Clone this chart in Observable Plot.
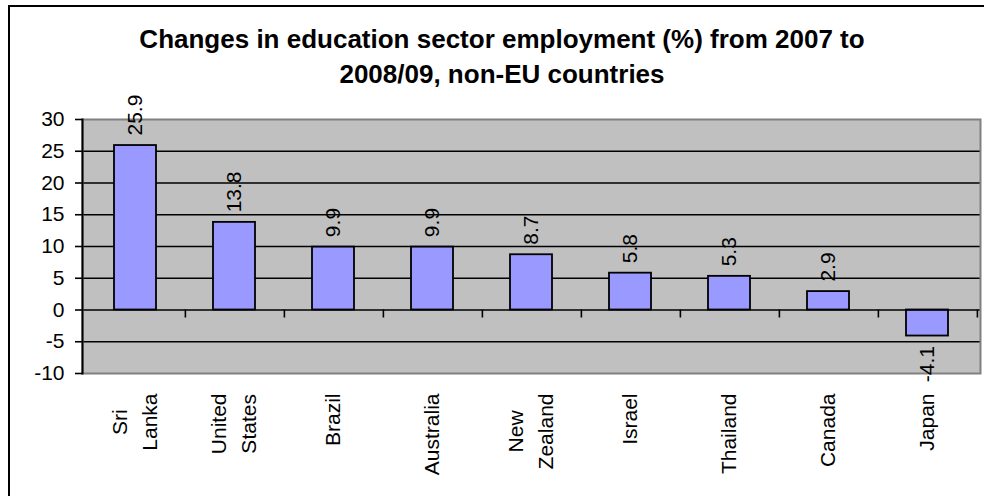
<!DOCTYPE html>
<html><head><meta charset="utf-8">
<script src="https://cdn.jsdelivr.net/npm/d3@7"></script>
<script src="https://cdn.jsdelivr.net/npm/@observablehq/plot@0.6"></script>
<style>
html,body{margin:0;padding:0;background:#fff;overflow:hidden;width:984px;height:496px;}
#frame{position:absolute;left:8px;top:5px;width:1200px;height:900px;border:2px solid #000;}
#title{position:absolute;left:0;top:21.5px;width:1004px;text-align:center;font:bold 26px "Liberation Sans",Arial,sans-serif;line-height:35px;color:#000;}
#chart{position:absolute;left:0;top:90px;}
</style></head><body>
<div id="frame"></div>
<div id="title">Changes in education sector employment (%) from 2007 to<br>2008/09, non-EU countries</div>
<div id="chart"></div>
<script>
const countries = ["Sri\nLanka", "United\nStates", "Brazil", "Australia", "New\nZealand", "Israel", "Thailand", "Canada", "Japan"];
const values = [25.9, 13.8, 9.9, 9.9, 8.7, 5.8, 5.3, 2.9, -4.1];
const yTicks = [-10, -5, 0, 5, 10, 15, 20, 25, 30];
const gridLines = [-5, 5, 10, 15, 20, 25];

const data = countries.map((c, i) => ({country: c, value: values[i]}));

const W = 984, H = 406, mL = 82, mR = 4, mT = 29, mB = 123;
const step = (W - mL - mR) / countries.length;
const FONT = "21px 'Liberation Sans', Arial, sans-serif";

const ctx = document.createElement("canvas").getContext("2d");
ctx.font = FONT;

const labelMarks = [];
countries.forEach(c => {
  const lines = c.split("\n");
  const widths = lines.map(l => ctx.measureText(l).width);
  const maxW = Math.max(...widths);
  lines.forEach((l, i) => {
    labelMarks.push(Plot.text([c], {
      x: d => d, text: () => l, frameAnchor: "bottom", rotate: -90,
      textAnchor: "end", lineAnchor: "middle",
      dy: 20 + (maxW - widths[i]) / 2,
      dx: (i - (lines.length - 1) / 2) * 30
    }));
  });
});

const chart = Plot.plot({
  width: W, height: H,
  marginLeft: mL, marginRight: mR, marginTop: mT, marginBottom: mB,
  style: {background: "transparent", fontFamily: "'Liberation Sans', Arial, sans-serif", fontSize: "21px", color: "#000", overflow: "visible"},
  x: {domain: countries, paddingInner: 0.58, paddingOuter: 0.29, axis: null},
  y: {domain: [-10, 30]},
  marks: [
    Plot.frame({fill: "#c0c0c0"}),
    Plot.ruleY(gridLines, {stroke: "#000", strokeWidth: 1.6}),
    Plot.barY(data, {x: "country", y: "value", fill: "#9999ff", stroke: "#000", strokeWidth: 1.8}),
    Plot.ruleY([0], {stroke: "#000", strokeWidth: 1.6}),
    Plot.ruleX(countries, {x: d => d, y1: 0, y2: 0, insetBottom: -8, dx: step / 2, stroke: "#000", strokeWidth: 1.6}),
    Plot.frame({stroke: "#808080", strokeWidth: 2}),
    Plot.frame({anchor: "left", stroke: "#000", strokeWidth: 2}),
    Plot.axisY({ticks: yTicks, tickSize: 7, tickPadding: 11, tickFormat: d => String(d), label: null, stroke: "#000", strokeWidth: 1.6}),
    Plot.text(data.filter(d => d.value >= 0), {x: "country", y: "value", text: d => d.value.toFixed(1), rotate: -90, textAnchor: "start", lineAnchor: "middle", dy: -10}),
    Plot.text(data.filter(d => d.value < 0), {x: "country", y: "value", text: d => d.value.toFixed(1), rotate: -90, textAnchor: "end", lineAnchor: "middle", dy: 10}),
    ...labelMarks
  ]
});
document.getElementById("chart").appendChild(chart);
</script>
</body></html>
